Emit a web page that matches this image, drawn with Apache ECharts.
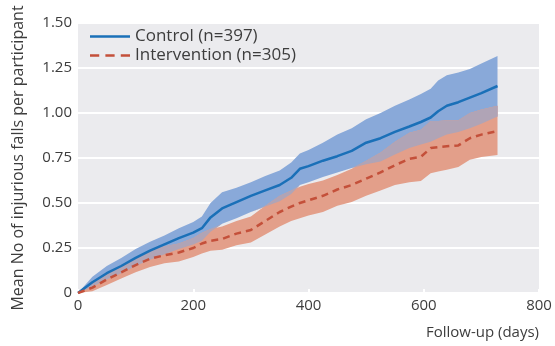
<!DOCTYPE html>
<html>
<head>
<meta charset="utf-8">
<script src="https://cdn.jsdelivr.net/npm/echarts@6/dist/echarts.min.js"></script>
<style>html,body{margin:0;padding:0;background:#fff}#c{width:555px;height:346px}</style>
</head>
<body>
<div id="c"></div>
<script>
var days = [0, 25, 50, 75, 100, 125, 150, 175, 200, 215, 230, 250, 275, 300, 325, 350, 370, 385, 400, 425, 450, 475, 500, 525, 550, 575, 595, 612, 625, 640, 660, 680, 700, 728];
var ctrlMean = [0, .06, .11, .15, .195, .235, .27, .305, .335, .36, .42, .47, .505, .54, .57, .60, .64, .69, .705, .735, .76, .79, .835, .86, .895, .925, .95, .975, 1.01, 1.04, 1.06, 1.085, 1.11, 1.15];
var ctrlHigh = [0, .09, .15, .195, .245, .285, .32, .36, .395, .425, .50, .56, .585, .615, .65, .68, .725, .775, .795, .835, .88, .915, .965, 1.0, 1.04, 1.075, 1.105, 1.135, 1.18, 1.21, 1.225, 1.245, 1.275, 1.317];
var ctrlLow = [0, .035, .075, .11, .15, .185, .215, .245, .27, .29, .34, .385, .415, .45, .48, .51, .55, .60, .615, .645, .67, .695, .715, .73, .77, .805, .825, .84, .86, .88, .895, .915, .94, .98];
var intMean = [0, .03, .075, .115, .155, .19, .21, .225, .25, .275, .29, .30, .33, .35, .40, .45, .48, .50, .515, .54, .575, .60, .635, .67, .71, .745, .757, .805, .81, .815, .82, .86, .88, .90];
var intHigh = [0, .055, .105, .15, .195, .235, .26, .275, .305, .335, .355, .37, .40, .425, .485, .54, .57, .59, .605, .625, .655, .69, .735, .78, .84, .89, .907, .955, .955, .96, .96, 1.0, 1.02, 1.04];
var intLow = [0, .01, .045, .08, .115, .145, .165, .175, .20, .22, .235, .24, .265, .28, .325, .37, .40, .415, .43, .45, .485, .505, .54, .57, .60, .615, .622, .665, .675, .685, .70, .74, .755, .767];
var xTicks = [0, 200, 400, 600, 800];
var yTicks = [0, 0.25, 0.5, 0.75, 1.0, 1.25, 1.5];
var ctrlName = 'Control (n=397)';
var intName = 'Intervention (n=305)';

var overlapTop = days.map(function (d, i) { return Math.max(ctrlLow[i], Math.min(intHigh[i], ctrlHigh[i])); });

function band(lowArr, highArr, color) {
  return {
    type: 'custom', silent: true, clip: true,
    data: [0],
    renderItem: function (params, api) {
      var pts = [];
      for (var i = 0; i < days.length; i++) pts.push(api.coord([days[i], highArr[i]]));
      for (var j = days.length - 1; j >= 0; j--) pts.push(api.coord([days[j], lowArr[j]]));
      return { type: 'polygon', shape: { points: pts }, style: { fill: color, stroke: null } };
    }
  };
}
function pairs(ys) { return days.map(function (d, i) { return [d, ys[i]]; }); }

var font = 'Open Sans';
var txt = '#3d3d3d';
var solidIcon = 'path://M0,0H40V2.6H0Z';
var dashIcon = 'path://M0,0H9V2.6H0Z M15,0H24V2.6H15Z M30,0H39V2.6H30Z';
var chart = echarts.init(document.getElementById('c'));
chart.setOption({
  animation: false,
  grid: { left: 78, right: 16, top: 23, bottom: 53, show: true, backgroundColor: '#ebebee', borderWidth: 0 },
  legend: {
    data: [{ name: ctrlName, icon: solidIcon }, { name: intName, icon: dashIcon }],
    orient: 'vertical', left: 85, top: 23, itemWidth: 40, itemHeight: 3, itemGap: 2,
    textStyle: { fontFamily: font, fontSize: 17, color: txt }
  },
  xAxis: {
    type: 'value', min: 0, max: 800, interval: 200,
    name: 'Follow-up (days)', nameLocation: 'end', nameGap: 0,
    nameTextStyle: { fontFamily: font, fontSize: 15, color: txt, align: 'right', verticalAlign: 'top', padding: [32, 0, 0, 0] },
    axisLine: { show: false },
    axisTick: { show: true, inside: true, length: 4, lineStyle: { color: '#ffffff', width: 2 } },
    axisLabel: { fontFamily: font, fontSize: 15, color: txt, margin: 5, formatter: function (v) { return xTicks.indexOf(v) >= 0 ? String(v) : ''; } },
    splitLine: { show: false }
  },
  yAxis: {
    type: 'value', min: 0, max: 1.5, interval: 0.25,
    name: 'Mean No of injurious falls per participant', nameLocation: 'middle', nameGap: 52,
    nameTextStyle: { fontFamily: font, fontSize: 16, color: txt },
    axisLine: { show: false }, axisTick: { show: false },
    axisLabel: { fontFamily: font, fontSize: 15, color: txt, margin: 6, formatter: function (v) { return v === 0 ? '0' : (yTicks.indexOf(v) >= 0 ? v.toFixed(2) : ''); } },
    splitLine: { show: true, lineStyle: { color: '#ffffff', width: 2 } }
  },
  series: [
    band(ctrlLow, ctrlHigh, '#89a9d9'),
    band(intLow, intHigh, '#e39f8a'),
    band(ctrlLow, overlapTop, '#b0a4b6'),
    { name: ctrlName, type: 'line', data: pairs(ctrlMean), symbol: 'none', lineStyle: { color: '#1a70b8', width: 2.5 }, itemStyle: { color: '#1a70b8' } },
    { name: intName, type: 'line', data: pairs(intMean), symbol: 'none', lineStyle: { color: '#c4503a', width: 2.5, type: [7, 5] }, itemStyle: { color: '#c4503a' } }
  ]
});
</script>
</body>
</html>
